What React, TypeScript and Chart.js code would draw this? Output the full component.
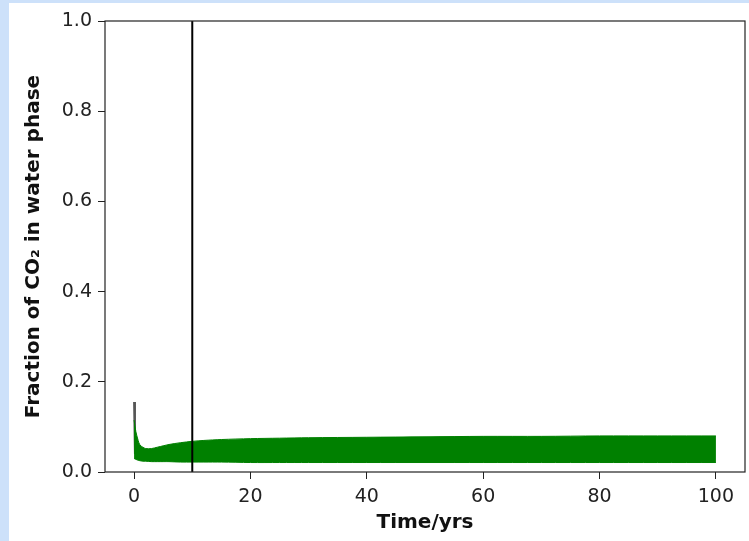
import React, { useEffect, useRef } from "react";
import { Chart, registerables } from "chart.js";

Chart.register(...registerables);

const times = [0, 0.3, 0.7, 1, 1.5, 2, 3, 4, 5, 6, 8, 10, 12, 15, 20, 25, 30, 40, 50, 60, 70, 80, 90, 100];
const upperFraction = [0.115, 0.09, 0.07, 0.06, 0.055, 0.052, 0.052, 0.055, 0.058, 0.061, 0.065, 0.068, 0.07, 0.072, 0.074, 0.075, 0.076, 0.077, 0.078, 0.079, 0.079, 0.08, 0.08, 0.08];
const lowerFraction = [0.03, 0.028, 0.026, 0.025, 0.024, 0.024, 0.023, 0.023, 0.023, 0.023, 0.022, 0.022, 0.022, 0.022, 0.021, 0.021, 0.021, 0.021, 0.021, 0.021, 0.021, 0.021, 0.021, 0.021];
const spikeTimes = [0, 0.15];
const spikeFraction = [0.155, 0.04];
const markerTime = 10;
const xTicks = [0, 20, 40, 60, 80, 100];
const yTicks = [0, 0.2, 0.4, 0.6, 0.8, 1.0];

const FONT = "'DejaVu Sans', sans-serif";

export default function App() {
  const ref = useRef<HTMLCanvasElement | null>(null);
  useEffect(() => {
    if (!ref.current) return;
    const spines = {
      id: "spines",
      afterDatasetsDraw(chart: any) {
        const { ctx, chartArea: a } = chart;
        ctx.save();
        ctx.strokeStyle = "#222";
        ctx.lineWidth = 1.2;
        ctx.strokeRect(a.left, a.top, a.right - a.left, a.bottom - a.top);
        ctx.restore();
      },
    };
    const chart = new Chart(ref.current, {
      type: "line",
      data: {
        datasets: [
          {
            data: [
              { x: markerTime, y: 0 },
              { x: markerTime, y: 1 },
            ],
            borderColor: "#000",
            borderWidth: 2,
            pointRadius: 0,
            fill: false,
          },
          {
            data: times.map((t, i) => ({ x: t, y: upperFraction[i] })),
            borderColor: "#008000",
            borderWidth: 1,
            backgroundColor: "#008000",
            pointRadius: 0,
            fill: "+1",
            tension: 0.3,
          },
          {
            data: times.map((t, i) => ({ x: t, y: lowerFraction[i] })),
            borderColor: "#008000",
            borderWidth: 1,
            pointRadius: 0,
            fill: false,
            tension: 0.3,
          },
          {
            data: spikeTimes.map((t, i) => ({ x: t, y: spikeFraction[i] })),
            borderColor: "#555",
            borderWidth: 2,
            pointRadius: 0,
            fill: false,
          },
        ],
      },
      options: {
        animation: false,
        responsive: false,
        maintainAspectRatio: false,
        layout: { padding: { top: 18, right: 4, left: 0, bottom: 0 } },
        plugins: { legend: { display: false }, tooltip: { enabled: false } },
        scales: {
          x: {
            type: "linear",
            min: -5,
            max: 105,
            afterBuildTicks: (s: any) => {
              s.ticks = xTicks.map((v) => ({ value: v }));
            },
            afterFit: (s: any) => {
              s.height = 69;
            },
            grid: { drawOnChartArea: false, tickLength: 7, color: "#222", tickWidth: 1 },
            border: { display: false },
            ticks: { color: "#222", font: { family: FONT, size: 19 }, padding: 7, maxRotation: 0 },
            title: {
              display: true,
              text: "Time/yrs",
              color: "#111",
              font: { family: FONT, size: 20, weight: "bold" },
              padding: { top: 0, bottom: 6 },
            },
          },
          y: {
            type: "linear",
            min: 0,
            max: 1,
            afterBuildTicks: (s: any) => {
              s.ticks = yTicks.map((v) => ({ value: v }));
            },
            afterFit: (s: any) => {
              s.width = 96;
            },
            grid: { drawOnChartArea: false, tickLength: 7, color: "#222", tickWidth: 1 },
            border: { display: false },
            ticks: {
              color: "#222",
              font: { family: FONT, size: 19 },
              padding: 6,
              callback: (v: any) => Number(v).toFixed(1),
            },
            title: {
              display: true,
              text: "Fraction of CO\u2082 in water phase",
              color: "#111",
              font: { family: FONT, size: 20, weight: "bold" },
              padding: { top: 13, bottom: 0 },
            },
          },
        },
      },
      plugins: [spines],
    });
    return () => chart.destroy();
  }, []);
  return (
    <div style={{ position: "fixed", left: 0, top: 0, width: 749, height: 541, background: "#cde1fa" }}>
      <div style={{ position: "absolute", left: 9, top: 3, width: 740, height: 538, background: "#fff" }}>
        <canvas ref={ref} width={740} height={538} style={{ display: "block", width: 740, height: 538 }} />
      </div>
    </div>
  );
}
